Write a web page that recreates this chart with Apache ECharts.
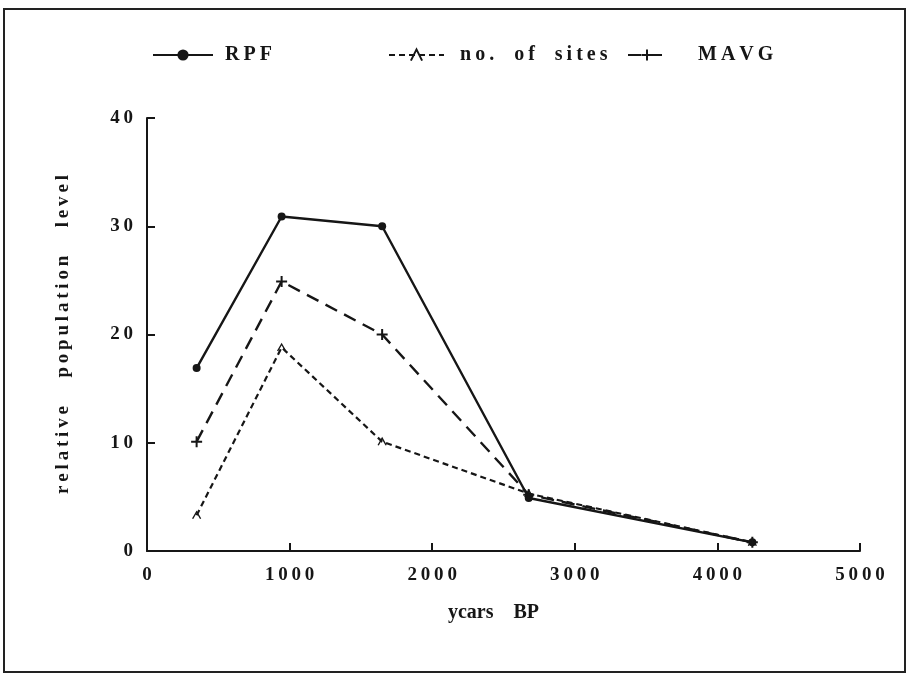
<!DOCTYPE html>
<html>
<head>
<meta charset="utf-8">
<script src="https://cdn.jsdelivr.net/npm/echarts@6/dist/echarts.min.js"></script>
<style>
html,body{margin:0;padding:0;background:#fff;}
#chart{width:907px;height:674px;}
</style>
</head>
<body>
<div id="chart"></div>
<script>
var years = [348, 944, 1649, 2677, 4245];
var rpf = [16.9, 30.9, 30.0, 4.9, 0.8];
var sites = [3.3, 18.8, 10.1, 5.3, 0.8];
var mavg = [10.1, 24.9, 20.0, 5.2, 0.8];
var seriesNames = ['RPF', 'no. of sites', 'MAVG'];
var xTitle = 'ycars BP';
var yTitle = 'relative population level';

function spaced(s, gap) {
  return s.split(' ').map(function (w) { return w.split('').join('\u2009'); }).join(gap || '\u2003');
}
function pairs(xs, ys) { return xs.map(function (x, i) { return [x, ys[i]]; }); }

var FONT = '"Liberation Serif", "DejaVu Serif", serif';
var INK = '#161616';
var chart = echarts.init(document.getElementById('chart'));
var caret = 'path://M0,10 L5,0 L10,10';
var plus = 'path://M5,0 L5,10 M0,5 L10,5';

function legendAt(left, name, w, pad) {
  return {
    left: left, top: 40, itemWidth: w, itemHeight: 14,
    data: [name],
    formatter: function (n) { return spaced(n); },
    textStyle: { fontFamily: FONT, fontWeight: 'bold', fontSize: 20, color: INK, padding: [0, 0, 0, pad] }
  };
}

chart.setOption({
  backgroundColor: '#fff',
  animation: false,
  graphic: [{
    type: 'rect', shape: { x: 4, y: 9, width: 901, height: 663 },
    style: { fill: 'none', stroke: '#222', lineWidth: 2 }, z: -1
  }],
  legend: [
    legendAt(147, seriesNames[0], 60, 7),
    legendAt(383, seriesNames[1], 55, 11),
    legendAt(622, seriesNames[2], 38, 27)
  ],
  grid: { left: 147, right: 47, top: 118, bottom: 123 },
  xAxis: {
    type: 'value', min: 0, max: 5000, interval: 1000,
    name: xTitle.split(' ').join('\u2003'), nameLocation: 'middle', nameGap: 52,
    nameTextStyle: { fontFamily: FONT, fontWeight: 'bold', fontSize: 20, color: INK, padding: [0, 20, 0, 0] },
    axisLine: { lineStyle: { color: INK, width: 2 } },
    axisTick: { inside: true, length: 8, lineStyle: { color: INK, width: 2 } },
    axisLabel: { margin: 15, fontFamily: FONT, fontWeight: 'bold', fontSize: 19, color: INK,
      formatter: function (v) { return spaced(String(v)); } },
    splitLine: { show: false }
  },
  yAxis: {
    type: 'value', min: 0, max: 40, interval: 10,
    name: spaced(yTitle, '\u2003\u2002'), nameLocation: 'middle', nameGap: 74, nameRotate: 90,
    nameTextStyle: { fontFamily: FONT, fontWeight: 'bold', fontSize: 19, color: INK },
    axisLine: { show: true, lineStyle: { color: INK, width: 2 } },
    axisTick: { show: true, inside: true, length: 8, lineStyle: { color: INK, width: 2 } },
    axisLabel: { margin: 14, fontFamily: FONT, fontWeight: 'bold', fontSize: 19, color: INK,
      formatter: function (v) { return spaced(String(v)); } },
    splitLine: { show: false }
  },
  series: [
    {
      name: seriesNames[0], type: 'line', data: pairs(years, rpf),
      symbol: 'circle', symbolSize: 8,
      lineStyle: { color: INK, width: 2.4, type: 'solid' },
      itemStyle: { color: INK }
    },
    {
      name: seriesNames[1], type: 'line', data: pairs(years, sites),
      symbol: caret, symbolSize: [8, 7],
      lineStyle: { color: INK, width: 2.2, type: [6, 4] },
      itemStyle: { color: 'rgba(0,0,0,0)', borderColor: INK, borderWidth: 1.3 }
    },
    {
      name: seriesNames[2], type: 'line', data: pairs(years, mavg),
      symbol: plus, symbolSize: 11,
      lineStyle: { color: INK, width: 2.4, type: [13, 8] },
      itemStyle: { color: 'rgba(0,0,0,0)', borderColor: INK, borderWidth: 2 }
    }
  ]
});
</script>
</body>
</html>
